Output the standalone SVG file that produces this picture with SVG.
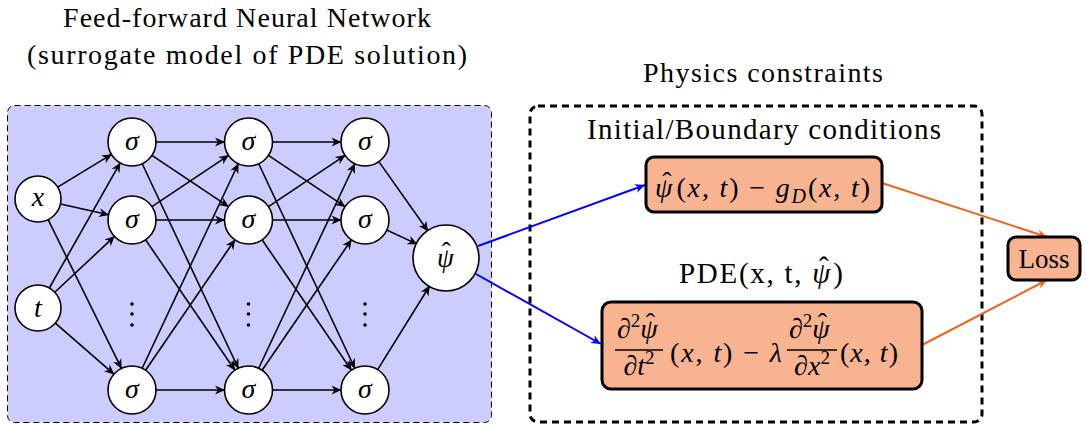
<svg xmlns="http://www.w3.org/2000/svg" width="1086" height="425" viewBox="0 0 1086 425" font-family="'Liberation Serif','DejaVu Serif',serif">
<style>
text{font-family:"Liberation Serif","DejaVu Serif",serif;fill:#000}
.i{font-style:italic}
.node{fill:#fff;stroke:#000;stroke-width:1.6}
.e{stroke:#000;stroke-width:1.6;fill:none;marker-end:url(#ak)}
.box{fill:#F8B390;stroke:#000;stroke-width:3}
.lbl{font-size:28px;font-style:italic;text-anchor:middle}
.sup{font-size:19px}
</style>
<defs>
<marker id="ak" markerUnits="userSpaceOnUse" viewBox="-11 -6 13 12" markerWidth="13" markerHeight="12" refX="-0.5" refY="0" orient="auto" overflow="visible"><path d="M0,0 L-10,-4.5 L-7,0 L-10,4.5 Z" fill="#000"/></marker>
<marker id="ab" markerUnits="userSpaceOnUse" viewBox="-11 -6 13 12" markerWidth="13" markerHeight="12" refX="0" refY="0" orient="auto" overflow="visible"><path d="M0,0 L-10,-4.5 L-7,0 L-10,4.5 Z" fill="#0000FF"/></marker>
<marker id="ao" markerUnits="userSpaceOnUse" viewBox="-11 -6 13 12" markerWidth="13" markerHeight="12" refX="0" refY="0" orient="auto" overflow="visible"><path d="M0,0 L-10,-4.5 L-7,0 L-10,4.5 Z" fill="#F0641E"/></marker>
</defs>

<g id="titles">
<text x="63" y="27" font-size="28" textLength="368" lengthAdjust="spacing">Feed-forward Neural Network</text>
<text x="27" y="64" font-size="28" textLength="440" lengthAdjust="spacing">(surrogate model of PDE solution)</text>
<text x="643" y="82" font-size="28" textLength="240" lengthAdjust="spacing">Physics constraints</text>
</g>

<g id="nn-panel">
<rect x="7.5" y="105.5" width="484" height="317" rx="7" fill="#CCCCFF" stroke="#000" stroke-width="1" stroke-dasharray="6 4"/>
</g>
<g id="physics-panel">
<rect x="530" y="106" width="452" height="316" rx="8" fill="none" stroke="#000" stroke-width="3" stroke-dasharray="7 5"/>
<text x="587" y="139" font-size="29" textLength="354" lengthAdjust="spacing">Initial/Boundary conditions</text>
<text x="679" y="283" font-size="29" textLength="164" lengthAdjust="spacing">PDE(x, t, <tspan class="i">ψ</tspan><tspan dx="-13" dy="-6">ˆ</tspan><tspan dx="3" dy="6">)</tspan></text>
</g>

<g id="connectors">
<line class="e" x1="57.67" y1="187.07" x2="111.48" y2="154.44"/>
<line class="e" x1="60.45" y1="204.01" x2="108.58" y2="214.77"/>
<line class="e" x1="48.16" y1="219.64" x2="121.40" y2="368.47"/>
<line class="e" x1="49.33" y1="287.99" x2="120.18" y2="162.88"/>
<line class="e" x1="54.79" y1="292.28" x2="114.48" y2="236.40"/>
<line class="e" x1="55.33" y1="323.12" x2="113.91" y2="374.22"/>

<line class="e" x1="156" y1="142" x2="224.5" y2="142"/>
<line class="e" x1="151.94" y1="155.35" x2="228.56" y2="206.65"/>
<line class="e" x1="142.2" y1="163.72" x2="238.3" y2="368.28"/>
<line class="e" x1="151.94" y1="206.65" x2="228.56" y2="155.35"/>
<line class="e" x1="156" y1="220" x2="224.5" y2="220"/>
<line class="e" x1="145.57" y1="239.8" x2="234.93" y2="370.2"/>
<line class="e" x1="142.2" y1="368.28" x2="238.3" y2="163.72"/>
<line class="e" x1="145.57" y1="370.2" x2="234.93" y2="239.8"/>
<line class="e" x1="156" y1="390" x2="224.5" y2="390"/>

<line class="e" x1="272.5" y1="142" x2="341" y2="142"/>
<line class="e" x1="268.44" y1="155.35" x2="345.06" y2="206.65"/>
<line class="e" x1="258.7" y1="163.72" x2="354.8" y2="368.28"/>
<line class="e" x1="268.44" y1="206.65" x2="345.06" y2="155.35"/>
<line class="e" x1="272.5" y1="220" x2="341" y2="220"/>
<line class="e" x1="262.07" y1="239.8" x2="351.43" y2="370.2"/>
<line class="e" x1="258.7" y1="368.28" x2="354.8" y2="163.72"/>
<line class="e" x1="262.07" y1="370.2" x2="351.43" y2="239.8"/>
<line class="e" x1="272.5" y1="390" x2="341" y2="390"/>

<line class="e" x1="378.85" y1="161.6" x2="427.95" y2="231.05"/>
<line class="e" x1="386.78" y1="230.09" x2="417.06" y2="244.12"/>
<line class="e" x1="377.66" y1="369.61" x2="429.59" y2="286.03"/>

<line x1="478" y1="246" x2="645" y2="185" stroke="#0000FF" stroke-width="2" marker-end="url(#ab)"/>
<line x1="476" y1="274" x2="601" y2="344" stroke="#0000FF" stroke-width="2" marker-end="url(#ab)"/>
<line x1="882" y1="183" x2="1047" y2="237" stroke="#F0641E" stroke-width="2" marker-end="url(#ao)"/>
<line x1="922" y1="345" x2="1047" y2="280" stroke="#F0641E" stroke-width="2" marker-end="url(#ao)"/>
</g>

<g id="node-x"><circle class="node" cx="38" cy="199" r="23"/><text class="lbl" x="38" y="206">x</text></g>
<g id="node-t"><circle class="node" cx="38" cy="308" r="23"/><text class="lbl" x="38" y="317">t</text></g>

<g id="node-h1a"><circle class="node" cx="132" cy="142" r="24"/><text class="lbl" x="132" y="150">σ</text></g>
<g id="node-h1b"><circle class="node" cx="132" cy="220" r="24"/><text class="lbl" x="132" y="228">σ</text></g>
<g id="node-h1c"><circle class="node" cx="132" cy="390" r="24"/><text class="lbl" x="132" y="398">σ</text></g>
<g id="node-h2a"><circle class="node" cx="248.5" cy="142" r="24"/><text class="lbl" x="248.5" y="150">σ</text></g>
<g id="node-h2b"><circle class="node" cx="248.5" cy="220" r="24"/><text class="lbl" x="248.5" y="228">σ</text></g>
<g id="node-h2c"><circle class="node" cx="248.5" cy="390" r="24"/><text class="lbl" x="248.5" y="398">σ</text></g>
<g id="node-h3a"><circle class="node" cx="365" cy="142" r="24"/><text class="lbl" x="365" y="150">σ</text></g>
<g id="node-h3b"><circle class="node" cx="365" cy="220" r="24"/><text class="lbl" x="365" y="228">σ</text></g>
<g id="node-h3c"><circle class="node" cx="365" cy="390" r="24"/><text class="lbl" x="365" y="398">σ</text></g>

<g id="vdots" fill="#000">
<circle cx="132" cy="304" r="1.8"/><circle cx="132" cy="314" r="1.8"/><circle cx="132" cy="325" r="1.8"/>
<circle cx="248.5" cy="304" r="1.8"/><circle cx="248.5" cy="314" r="1.8"/><circle cx="248.5" cy="325" r="1.8"/>
<circle cx="365" cy="304" r="1.8"/><circle cx="365" cy="314" r="1.8"/><circle cx="365" cy="325" r="1.8"/>
</g>

<g id="node-psi"><circle class="node" cx="446" cy="258" r="33"/><text x="437" y="267" font-size="27"><tspan class="i">ψ</tspan><tspan dx="-12" dy="-6">ˆ</tspan></text></g>

<g id="node-bc">
<rect class="box" x="646" y="157" width="236" height="55" rx="8"/>
<text x="655" y="197" font-size="28" textLength="215" lengthAdjust="spacing"><tspan class="i">ψ</tspan><tspan dx="-12" dy="-6">ˆ</tspan><tspan dx="3" dy="6">(</tspan><tspan class="i">x</tspan>, <tspan class="i">t</tspan>) − <tspan class="i">g</tspan><tspan class="i" font-size="20" dy="6">D</tspan><tspan dy="-6">(</tspan><tspan class="i">x</tspan>, <tspan class="i">t</tspan>)</text>
</g>

<g id="node-pde">
<rect class="box" x="602" y="302" width="320" height="87" rx="9"/>
<text x="617" y="338" font-size="28">∂<tspan class="sup" dy="-11">2</tspan><tspan class="i" dy="11">ψ</tspan><tspan dx="-12" dy="-6">ˆ</tspan></text>
<line x1="615" y1="350" x2="663" y2="350" stroke="#000" stroke-width="1.3"/>
<text x="639" y="375" font-size="28" text-anchor="middle">∂<tspan class="i">t</tspan><tspan class="sup" dy="-11">2</tspan></text>
<text x="670" y="362" font-size="28" textLength="112" lengthAdjust="spacing">(<tspan class="i">x</tspan>, <tspan class="i">t</tspan>) − <tspan class="i">λ</tspan></text>
<text x="789" y="338" font-size="28">∂<tspan class="sup" dy="-11">2</tspan><tspan class="i" dy="11">ψ</tspan><tspan dx="-12" dy="-6">ˆ</tspan></text>
<line x1="787" y1="350" x2="837" y2="350" stroke="#000" stroke-width="1.3"/>
<text x="812" y="375" font-size="28" text-anchor="middle">∂<tspan class="i">x</tspan><tspan class="sup" dy="-11">2</tspan></text>
<text x="840" y="362" font-size="28" textLength="58" lengthAdjust="spacing">(<tspan class="i">x</tspan>, <tspan class="i">t</tspan>)</text>
</g>

<g id="node-loss">
<rect class="box" x="1008" y="237" width="72" height="43" rx="8"/>
<text x="1044" y="268" font-size="27" text-anchor="middle">Loss</text>
</g>
</svg>
